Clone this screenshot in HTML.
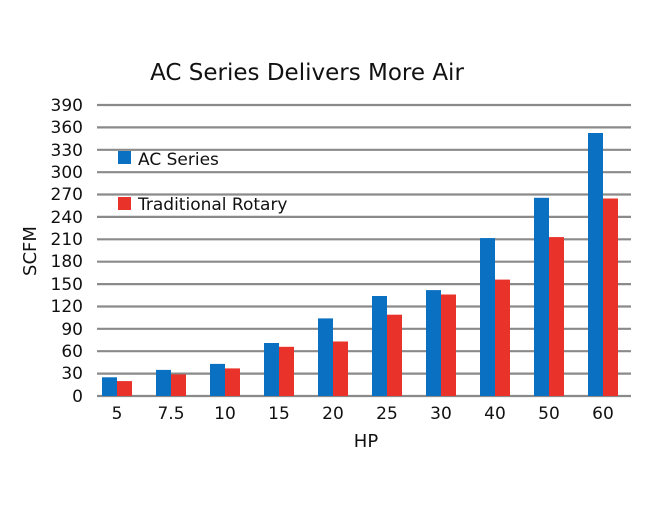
<!DOCTYPE html>
<html><head><style>
html,body{margin:0;padding:0;background:#fff;}
svg{display:block;font-family:"DejaVu Sans","Liberation Sans",sans-serif;}
</style></head><body>
<svg width="650" height="506" viewBox="0 0 650 506" xmlns="http://www.w3.org/2000/svg">
<text x="307" y="80" font-size="23" text-anchor="middle" fill="#111">AC Series Delivers More Air</text>
<g stroke="#8a8a8a" stroke-width="2.2">
<line x1="97" x2="631" y1="105" y2="105"/><line x1="97" x2="631" y1="127.4" y2="127.4"/>
<line x1="97" x2="631" y1="149.8" y2="149.8"/><line x1="97" x2="631" y1="172.2" y2="172.2"/>
<line x1="97" x2="631" y1="194.5" y2="194.5"/><line x1="97" x2="631" y1="216.9" y2="216.9"/>
<line x1="97" x2="631" y1="239.3" y2="239.3"/><line x1="97" x2="631" y1="261.7" y2="261.7"/>
<line x1="97" x2="631" y1="284.1" y2="284.1"/><line x1="97" x2="631" y1="306.5" y2="306.5"/>
<line x1="97" x2="631" y1="328.8" y2="328.8"/><line x1="97" x2="631" y1="351.2" y2="351.2"/>
<line x1="97" x2="631" y1="373.6" y2="373.6"/><line x1="97" x2="631" y1="396" y2="396"/>
</g>
<g font-size="17" fill="#111" text-anchor="end">
<text x="83" y="111">390</text><text x="83" y="133">360</text><text x="83" y="156">330</text>
<text x="83" y="178">300</text><text x="83" y="200">270</text><text x="83" y="223">240</text>
<text x="83" y="245">210</text><text x="83" y="267">180</text><text x="83" y="290">150</text>
<text x="83" y="312">120</text><text x="83" y="335">90</text><text x="83" y="357">60</text>
<text x="83" y="379">30</text><text x="83" y="402">0</text>
</g>
<g fill="#0a70c2">
<rect x="102" y="377.3" width="15" height="18.7"/>
<rect x="156" y="369.9" width="15" height="26.1"/>
<rect x="210" y="363.9" width="15" height="32.1"/>
<rect x="264" y="343.0" width="15" height="53.0"/>
<rect x="318" y="318.4" width="15" height="77.6"/>
<rect x="372" y="296.0" width="15" height="100.0"/>
<rect x="426" y="290.1" width="15" height="105.9"/>
<rect x="480" y="238.1" width="15" height="157.9"/>
<rect x="534" y="197.8" width="15" height="198.2"/>
<rect x="588" y="133" width="15" height="263"/>
</g>
<g fill="#e8322a">
<rect x="117" y="381.1" width="15" height="14.9"/>
<rect x="171" y="374.4" width="15" height="21.6"/>
<rect x="225" y="368.4" width="15" height="27.6"/>
<rect x="279" y="346.8" width="15" height="49.2"/>
<rect x="333" y="341.5" width="15" height="54.5"/>
<rect x="387" y="314.7" width="15" height="81.3"/>
<rect x="441" y="294.5" width="15" height="101.5"/>
<rect x="495" y="279.6" width="15" height="116.4"/>
<rect x="549" y="237.1" width="15" height="158.9"/>
<rect x="603" y="198.5" width="15" height="197.5"/>
</g>
<g font-size="17" fill="#111" text-anchor="middle">
<text x="117" y="419">5</text><text x="171" y="419">7.5</text><text x="225" y="419">10</text>
<text x="279" y="419">15</text><text x="333" y="419">20</text><text x="387" y="419">25</text>
<text x="441" y="419">30</text><text x="495" y="419">40</text><text x="549" y="419">50</text>
<text x="603" y="419">60</text>
</g>
<text x="366" y="447" font-size="18" text-anchor="middle" fill="#111">HP</text>
<text transform="translate(36,251) rotate(-90)" font-size="18" text-anchor="middle" fill="#111">SCFM</text>
<rect x="118" y="151" width="13" height="13" fill="#0a70c2"/>
<text x="138" y="165" font-size="17" fill="#111">AC Series</text>
<rect x="118" y="197" width="13" height="13" fill="#e8322a"/>
<text x="138" y="210" font-size="17" fill="#111">Traditional Rotary</text>
</svg>
</body></html>
